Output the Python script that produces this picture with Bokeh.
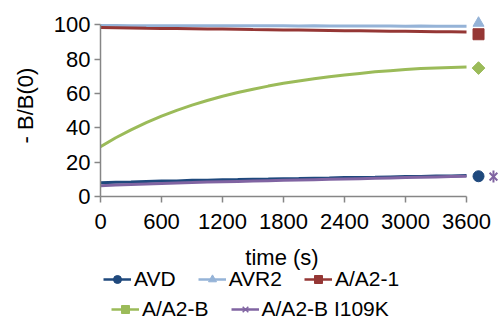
import math
from bokeh.plotting import figure
from bokeh.layouts import column
from bokeh.models import Range1d, FixedTicker, Legend, LegendItem, ColumnDataSource, Label
from bokeh.embed import file_html
from bokeh.resources import INLINE

# ---- data ----
time_s = [0, 150, 300, 450, 600, 750, 900, 1050, 1200, 1350, 1500, 1650, 1800,
          1950, 2100, 2250, 2400, 2550, 2700, 2850, 3000, 3150, 3300, 3450, 3600]
avd = [8.0, 8.3, 8.5, 8.8, 9.0, 9.1, 9.4, 9.5, 9.8, 9.9, 10.1, 10.2, 10.4,
       10.5, 10.7, 10.8, 11.0, 11.1, 11.2, 11.4, 11.6, 11.7, 11.9, 12.0, 12.2]
avr2 = [99.6, 99.6, 99.5, 99.5, 99.5, 99.5, 99.4, 99.5, 99.4, 99.4, 99.4, 99.4, 99.4,
        99.3, 99.4, 99.3, 99.3, 99.3, 99.3, 99.3, 99.2, 99.3, 99.2, 99.2, 99.2]
a_a2_1 = [98.4, 98.3, 98.2, 98.0, 97.9, 97.8, 97.7, 97.6, 97.5, 97.4, 97.2, 97.1, 97.0,
          96.9, 96.8, 96.7, 96.6, 96.5, 96.4, 96.3, 96.2, 96.1, 96.0, 95.9, 95.8]
a_a2_b = [29.0, 34.2, 38.8, 43.0, 46.8, 50.2, 53.2, 55.9, 58.4, 60.6, 62.5, 64.3, 65.9,
          67.3, 68.6, 69.8, 70.8, 71.7, 72.6, 73.3, 74.0, 74.5, 74.9, 75.2, 75.4]
a_a2_b_i109k = [6.3, 6.7, 7.0, 7.3, 7.6, 7.9, 8.1, 8.4, 8.6, 8.8, 9.0, 9.2, 9.4,
                9.6, 9.8, 10.0, 10.2, 10.4, 10.6, 10.8, 11.0, 11.2, 11.4, 11.6, 11.8]

series_names = ["AVD", "AVR2", "A/A2-1", "A/A2-B", "A/A2-B I109K"]
series_values = [avd, avr2, a_a2_1, a_a2_b, a_a2_b_i109k]
# single end-of-run marker points
end_time = [3718, 3718, 3718, 3718, 3865]
end_value = [11.8, 101.0, 94.5, 74.8, 11.6]

x_ticks = [0, 600, 1200, 1800, 2400, 3000, 3600]
y_ticks = [0, 20, 40, 60, 80, 100]
x_title = "time (s)"
y_title = "- B/B(0)"

colors = ["#1F497D", "#95B3D7", "#953735", "#9BBB59", "#8064A2"]
# marker styles: list of (marker, angle, size, filled)
marker_specs = [
    [("circle", 0.0, 11, True)],
    [("triangle", 0.0, 11, True)],
    [("square", 0.0, 11, True)],
    [("square", math.pi / 4, 9, True)],
    [("x", 0.0, 11, False), ("dash", math.pi / 2, 12, False)],
]

FONT = "Liberation Sans"
FS = "22px"
LFS = "21px"

p = figure(width=501, height=240, frame_width=401, frame_height=182,
           output_backend="svg", toolbar_location=None,
           x_range=Range1d(0, 3944), y_range=Range1d(0, 106),
           min_border_left=100, min_border_right=0, min_border_top=14,
           min_border_bottom=44)
p.outline_line_color = None
p.xgrid.visible = False
p.ygrid.visible = False
p.background_fill_color = "white"
p.border_fill_color = "white"

for ax, ticks, bnd in ((p.xaxis[0], x_ticks, (0, 3600)), (p.yaxis[0], y_ticks, (0, 100))):
    ax.ticker = FixedTicker(ticks=ticks)
    ax.bounds = bnd
    ax.axis_line_color = "#868686"
    ax.axis_line_width = 1.5
    ax.major_tick_line_color = "#868686"
    ax.major_tick_line_width = 1.5
    ax.major_tick_in = 0
    ax.major_tick_out = 6
    ax.minor_tick_line_color = None
    ax.major_label_text_font = FONT
    ax.major_label_text_font_size = FS
    ax.major_label_text_color = "#000000"
    ax.axis_label_text_font = FONT
    ax.axis_label_text_font_size = FS
    ax.axis_label_text_font_style = "normal"
    ax.axis_label_text_color = "#000000"

p.xaxis.major_label_standoff = 11
p.yaxis.axis_label = y_title
p.yaxis.major_label_standoff = 4
p.yaxis.axis_label_standoff = 13

for i, name in enumerate(series_names):
    src = ColumnDataSource(dict(t=time_s, v=series_values[i]))
    p.line("t", "v", source=src, line_color=colors[i], line_width=3)
    msrc = ColumnDataSource(dict(t=[end_time[i]], v=[end_value[i]]))
    for (mk, ang, sz, filled) in marker_specs[i]:
        if filled:
            p.scatter("t", "v", source=msrc, marker=mk, angle=ang, size=sz,
                      fill_color=colors[i], line_color=colors[i])
        else:
            p.scatter("t", "v", source=msrc, marker=mk, angle=ang, size=sz,
                      line_color=colors[i], line_width=2)

# ---- strip below the chart: x-axis title and legend (frame aligned with chart) ----
LH = 81
p2 = figure(width=501, height=LH, output_backend="svg", toolbar_location=None,
            x_range=Range1d(0, 401), y_range=Range1d(0, LH),
            x_axis_type=None, y_axis_type=None,
            min_border_left=100, min_border_right=0, min_border_top=0, min_border_bottom=0)
p2.outline_line_color = None
p2.xgrid.visible = False
p2.ygrid.visible = False
p2.border_fill_color = "white"

# x-axis title, centred under the 0-3600 axis line
p2.add_layout(Label(x=181.5, y=64.5, x_units="screen", y_units="screen", text=x_title,
                    text_font=FONT, text_font_size=FS, text_color="#000000",
                    text_align="center", text_baseline="alphabetic"))

nan = float("nan")
items = []
for i, name in enumerate(series_names):
    # legend-only proxies (NaN data draws nothing in the strip)
    rs = [p2.line(x=[nan], y=[nan], line_color=colors[i], line_width=2.5)]
    for (mk, ang, sz, filled) in marker_specs[i]:
        if filled:
            rs.append(p2.scatter(x=[nan], y=[nan], marker=mk, angle=ang, size=sz,
                                 fill_color=colors[i], line_color=colors[i]))
        else:
            rs.append(p2.scatter(x=[nan], y=[nan], marker=mk, angle=ang, size=sz,
                                 line_color=colors[i], line_width=1.5))
    items.append(LegendItem(label=name, renderers=rs))

def make_legend(its, loc):
    return Legend(items=its, orientation="horizontal", location=loc,
                  label_text_font=FONT, label_text_font_size=LFS,
                  label_text_color="#000000",
                  glyph_width=28, glyph_height=20, label_standoff=3, spacing=22,
                  padding=0, margin=0, border_line_color=None,
                  background_fill_alpha=0)

p2.add_layout(make_legend(items[:3], (3, 30)))
p2.add_layout(make_legend(items[3:], (11, 0)))

layout = column(p, p2, spacing=0)
open("out.html", "w").write(file_html(layout, INLINE))
